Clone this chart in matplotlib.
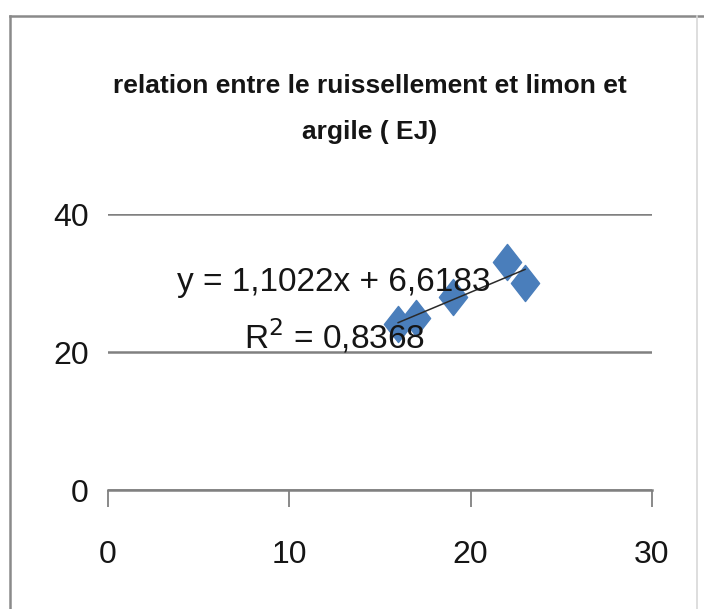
import matplotlib
matplotlib.use("Agg")
import matplotlib.pyplot as plt
import numpy as np
from matplotlib.path import Path
from matplotlib.lines import Line2D

# Data
clay_silt = [16, 17, 19, 22, 23]
runoff = [24, 25, 28, 33, 30]
x_ticks = [0, 10, 20, 30]
y_ticks = [0, 20, 40]
title = "relation entre le ruissellement et limon et\nargile ( EJ)"

FONT = ['Liberation Sans', 'DejaVu Sans']
plt.rcParams['font.family'] = FONT

W, H = 704, 609
fig = plt.figure(figsize=(W / 100, H / 100), dpi=100)
fig.patch.set_facecolor('white')

# outer chart border
def fline(x0, y0, x1, y1, c, lw):
    fig.add_artist(Line2D([x0 / W, x1 / W], [1 - y0 / H, 1 - y1 / H],
                          transform=fig.transFigure, color=c, linewidth=lw))

fline(10, 16, 704, 16, '#8a8a8a', 1.8)
fline(10, 16, 10, 609, '#8a8a8a', 1.8)
fline(697, 16, 697, 609, '#d8d8d8', 1.2)

ax = fig.add_axes([108 / W, (H - 490) / H, (652 - 108) / W, (490 - 214) / H])
ax.set_xlim(0, 30)
ax.set_ylim(0, 40)
ax.set_xticks(x_ticks)
ax.set_yticks(y_ticks)
for s in ['top', 'right', 'left']:
    ax.spines[s].set_visible(False)
ax.spines['bottom'].set_color('#808080')
ax.spines['bottom'].set_linewidth(1.8)
ax.yaxis.grid(True, color='#808080', linewidth=1.8)
ax.set_axisbelow(True)
ax.tick_params(axis='x', direction='out', length=12, width=1.3, color='#808080',
               labelsize=23, pad=24, labelcolor='#151515')
ax.tick_params(axis='y', length=0, labelsize=23, pad=14, labelcolor='#151515')

# diamond marker (tall)
diamond = Path([(0, 1.28), (1, 0), (0, -1.28), (-1, 0), (0, 1.28)],
               [Path.MOVETO, Path.LINETO, Path.LINETO, Path.LINETO, Path.CLOSEPOLY])
ax.plot(clay_silt, runoff, linestyle='none', marker=diamond, markersize=26,
        markerfacecolor='#4a7ebb', markeredgecolor='#4a7ebb', zorder=3, clip_on=False)

# linear trendline
xa = np.array(clay_silt, dtype=float)
ya = np.array(runoff, dtype=float)
slope, intercept = np.polyfit(xa, ya, 1)
r2 = np.corrcoef(xa, ya)[0, 1] ** 2
xs = np.array([xa.min(), xa.max()])
ax.plot(xs, slope * xs + intercept, color='#2a2a2a', linewidth=1.1, zorder=5)

eq = "y = {:.4f}x + {:.4f}".format(slope, intercept).replace('.', ',')
rt = "R$^2$ = {:.4f}".format(r2).replace('.', ',')
fig.text(334 / W, 1 - 283 / H, eq, ha='center', va='center', fontsize=24,
         color='#151515', zorder=4)
fig.text(335 / W, 1 - 336 / H, rt, ha='center', va='center', fontsize=24,
         color='#151515', zorder=4)

fig.text(370 / W, 1 - 109 / H, title, ha='center', va='center', fontsize=19,
         fontweight='bold', color='#151515', linespacing=2.15)

fig.savefig('out.png', dpi=100, facecolor='white')
